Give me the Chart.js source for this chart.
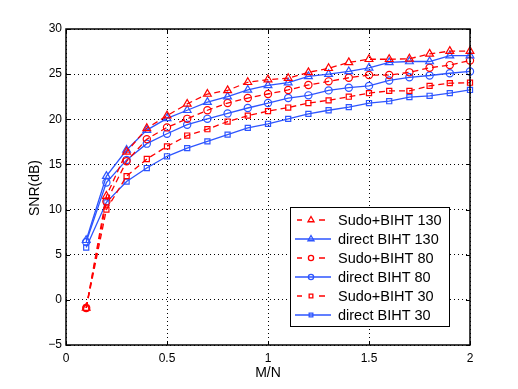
<!DOCTYPE html>
<html>
<head>
<meta charset="utf-8">
<script src="https://cdn.jsdelivr.net/npm/chart.js@4.4.0/dist/chart.umd.min.js"></script>
<style>
  html, body { margin: 0; padding: 0; background: #fff; }
  #wrap { width: 518px; height: 389px; }
</style>
</head>
<body>
<div id="wrap"><canvas id="snrChart" width="518" height="389"></canvas></div>
<script>
// Data
var ratios = [0.1, 0.2, 0.3, 0.4, 0.5, 0.6, 0.7, 0.8, 0.9, 1.0, 1.1, 1.2, 1.3, 1.4, 1.5, 1.6, 1.7, 1.8, 1.9, 2.0];

var sudo130 = [-0.9, 11.5, 16.4, 19.0, 20.4, 21.7, 22.8, 23.2, 24.1, 24.4, 24.55, 25.2, 25.65, 26.3, 26.65, 26.65, 26.7, 27.25, 27.55, 27.55];
var direct130 = [6.6, 13.7, 16.6, 18.8, 20.1, 21.0, 21.9, 22.5, 23.25, 23.75, 24.05, 24.75, 25.0, 25.3, 25.7, 26.3, 26.4, 26.4, 27.05, 27.05];
var sudo80 = [-0.9, 10.9, 15.35, 17.8, 19.1, 20.05, 21.0, 21.8, 22.35, 22.8, 23.25, 23.8, 24.2, 24.6, 24.9, 24.9, 25.2, 25.7, 26.0, 26.5];
var direct80 = [6.4, 13.0, 15.5, 17.3, 18.4, 19.4, 20.05, 20.65, 21.25, 21.8, 22.35, 22.65, 23.2, 23.5, 23.7, 24.3, 24.65, 24.85, 25.1, 25.3];
var sudo30 = [-0.9, 10.0, 13.7, 15.6, 17.0, 18.2, 18.9, 19.75, 20.4, 20.9, 21.3, 21.8, 22.1, 22.5, 22.9, 23.15, 23.15, 23.7, 24.0, 24.05];
var direct30 = [5.8, 10.8, 13.1, 14.6, 15.9, 16.8, 17.55, 18.3, 19.05, 19.5, 20.05, 20.6, 21.0, 21.35, 21.8, 22.0, 22.45, 22.6, 22.9, 23.25];

var xTicks = [0, 0.5, 1, 1.5, 2];
var xTickLabels = ['0', '0.5', '1', '1.5', '2'];
var yTicks = [-5, 0, 5, 10, 15, 20, 25, 30];
var yTickLabels = ['\u22125', '0', '5', '10', '15', '20', '25', '30'];
var xTitle = 'M/N';
var yTitle = 'SNR(dB)';

var RED = 'rgb(255,0,0)';
var BLUE = 'rgb(45,85,255)';
var FONT = '"Liberation Sans", Arial, Helvetica, sans-serif';

function toPoints(ys) {
  return ratios.map(function (x, i) { return {x: x, y: ys[i]}; });
}

function makeSet(label, ys, color, marker, dashed) {
  return {
    label: label,
    data: toPoints(ys),
    borderColor: color,
    backgroundColor: 'rgba(0,0,0,0)',
    borderWidth: 1.3,
    borderDash: dashed ? [6, 4] : [],
    pointStyle: marker,
    pointRadius: marker === 'triangle' ? 4.5 : 3.6,
    pointBorderWidth: 1.2,
    pointBorderColor: color,
    pointBackgroundColor: 'rgba(0,0,0,0)',
    tension: 0,
    clip: false
  };
}

// inward tick marks, box, axis titles and legend, MATLAB style
var matlabFrame = {
  id: 'matlabFrame',
  afterDraw: function (chart) {
    var ctx = chart.ctx;
    var a = chart.chartArea;
    var xs = chart.scales.x, ys = chart.scales.y;
    ctx.save();
    ctx.strokeStyle = '#000';
    ctx.lineWidth = 1;
    ctx.setLineDash([]);
    xTicks.forEach(function (t) {
      var px = Math.round(xs.getPixelForValue(t)) + 0.5;
      ctx.beginPath();
      ctx.moveTo(px, a.bottom); ctx.lineTo(px, a.bottom - 4);
      ctx.moveTo(px, a.top); ctx.lineTo(px, a.top + 4);
      ctx.stroke();
    });
    yTicks.forEach(function (t) {
      var py = Math.round(ys.getPixelForValue(t)) + 0.5;
      ctx.beginPath();
      ctx.moveTo(a.left, py); ctx.lineTo(a.left + 4, py);
      ctx.moveTo(a.right, py); ctx.lineTo(a.right - 4, py);
      ctx.stroke();
    });
    ctx.lineWidth = 1.5;
    ctx.strokeRect(a.left, a.top, a.right - a.left, a.bottom - a.top);

    // axis titles
    ctx.fillStyle = '#000';
    ctx.font = '14px ' + FONT;
    ctx.textAlign = 'center';
    ctx.textBaseline = 'middle';
    ctx.fillText(xTitle, (a.left + a.right) / 2, a.bottom + 28);
    ctx.save();
    ctx.translate(a.left - 31, (a.top + a.bottom) / 2 + 1);
    ctx.rotate(-Math.PI / 2);
    ctx.fillText(yTitle, 0, 0);
    ctx.restore();

    // legend box
    var bx = a.left + 224, by = a.top + 178, bw = 159, bh = 119;
    ctx.fillStyle = '#fff';
    ctx.fillRect(bx, by, bw, bh);
    ctx.lineWidth = 1;
    ctx.strokeRect(bx + 0.5, by + 0.5, bw, bh);
    ctx.font = '14.5px ' + FONT;
    ctx.textAlign = 'left';
    ctx.textBaseline = 'middle';
    chart.data.datasets.forEach(function (ds, i) {
      var ly = by + 13 + i * 19;
      ctx.strokeStyle = ds.borderColor;
      ctx.lineWidth = 1.3;
      ctx.beginPath();
      if (ds.borderDash.length) {
        ctx.moveTo(bx + 7, ly); ctx.lineTo(bx + 12, ly);
        ctx.moveTo(bx + 29, ly); ctx.lineTo(bx + 35, ly);
      } else {
        ctx.moveTo(bx + 5, ly); ctx.lineTo(bx + 41, ly);
      }
      ctx.stroke();
      ctx.fillStyle = 'rgba(0,0,0,0)';
      Chart.helpers.drawPoint(ctx, {
        pointStyle: ds.pointStyle,
        radius: ds.pointStyle === 'triangle' ? 3.5 : 2.6,
        borderWidth: ds.borderDash.length ? 2 : 1.2
      }, bx + 21, ly);
      ctx.fillStyle = '#000';
      ctx.fillText(ds.label, bx + 48, ly + 1);
    });
    ctx.restore();
  }
};

var snrChart = new Chart(document.getElementById('snrChart').getContext('2d'), {
  type: 'line',
  data: {
    datasets: [
      makeSet('Sudo+BIHT 130', sudo130, RED, 'triangle', true),
      makeSet('direct BIHT 130', direct130, BLUE, 'triangle', false),
      makeSet('Sudo+BIHT 80', sudo80, RED, 'circle', true),
      makeSet('direct BIHT 80', direct80, BLUE, 'circle', false),
      makeSet('Sudo+BIHT 30', sudo30, RED, 'rect', true),
      makeSet('direct BIHT 30', direct30, BLUE, 'rect', false)
    ]
  },
  options: {
    responsive: false,
    animation: false,
    layout: { padding: { left: 0, top: 29, right: 48, bottom: 0 } },
    plugins: {
      legend: { display: false },
      tooltip: { enabled: false }
    },
    scales: {
      x: {
        type: 'linear',
        min: 0,
        max: 2,
        afterBuildTicks: function (scale) {
          scale.ticks = xTicks.map(function (v) { return {value: v}; });
        },
        afterFit: function (scale) { scale.height = 44; },
        ticks: {
          color: '#000',
          font: { family: FONT, size: 12 },
          padding: 6,
          maxRotation: 0,
          callback: function (v) { return xTickLabels[xTicks.indexOf(v)]; }
        },
        grid: { color: '#000', lineWidth: 1, drawTicks: false },
        border: { display: false, dash: [1, 3] }
      },
      y: {
        type: 'linear',
        min: -5,
        max: 30,
        afterBuildTicks: function (scale) {
          scale.ticks = yTicks.map(function (v) { return {value: v}; });
        },
        afterFit: function (scale) { scale.width = 66; },
        ticks: {
          color: '#000',
          font: { family: FONT, size: 12 },
          padding: 4,
          callback: function (v) { return yTickLabels[yTicks.indexOf(v)]; }
        },
        grid: { color: '#000', lineWidth: 1, drawTicks: false },
        border: { display: false, dash: [1, 3] }
      }
    }
  },
  plugins: [matlabFrame]
});
</script>
</body>
</html>
